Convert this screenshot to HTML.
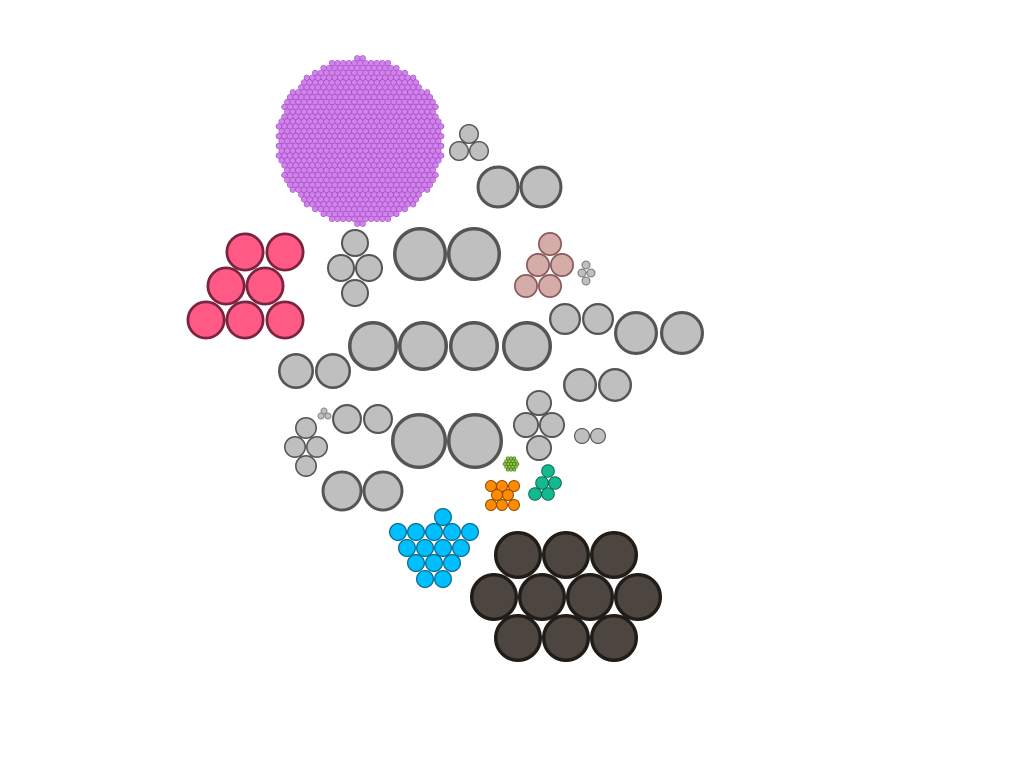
<!DOCTYPE html>
<html><head><meta charset="utf-8"><style>html,body{margin:0;padding:0;background:#fff;width:1024px;height:768px;overflow:hidden}</style></head>
<body>
<svg id="chart" width="1024" height="768" viewBox="0 0 1024 768" xmlns="http://www.w3.org/2000/svg"></svg>
<script>
// group names, node radius, fill, stroke, node positions
const groupNames = ["g-tri-small","g-pair-a","g-pink","g-diamond-a","g-pair-big-a","g-rosy","g-tiny-diamond","g-row4","g-pair-b","g-pair-c","g-pair-d","g-pair-e","g-tiny-tri","g-pair-f","g-diamond-b","g-pair-big-b","g-diamond-c","g-pair-g","g-pair-h","g-orange","g-teal","g-blue","g-dark"];
const groupRadius = [10,21.5,19.5,14,27,12,4.5,25,16,22,18,17,3.5,15,11,28,13,8,20.5,6,6.8,9,24];
const groupFill = ["#bfbfbf","#bfbfbf","#ff5a85","#bfbfbf","#bfbfbf","#d4aca8","#bfbfbf","#bfbfbf","#bfbfbf","#bfbfbf","#bfbfbf","#bfbfbf","#bfbfbf","#bfbfbf","#bfbfbf","#bfbfbf","#bfbfbf","#bfbfbf","#bfbfbf","#ff8c00","#13b98f","#00bfff","#4d4540"];
const groupStroke = ["#555","#555","#7a2440","#555","#555","#8a5a5a","#777","#555","#555","#555","#555","#555","#888","#555","#555","#555","#555","#555","#555","#9a4a00","#0a6a50","#0a6a90","#201c18"];
const groupNodes = [
 [[469,134],[459,151],[479,151]],
 [[498,187],[541,187]],
 [[245,252],[285,252],[226,286],[265,286],[206,320],[245,320],[285,320]],
 [[355,243],[341,268],[369,268],[355,293]],
 [[420,254],[474,254]],
 [[550,244],[538,265],[562,265],[526,286],[550,286]],
 [[586,265],[582,273],[591,273],[586,281]],
 [[373,346],[423,346],[474,346],[527,346]],
 [[565,319],[598,319]],
 [[636,333],[682,333]],
 [[296,371],[333,371]],
 [[580,385],[615,385]],
 [[324,411],[321,416],[328,416]],
 [[347,419],[378,419]],
 [[306,428],[295,447],[317,447],[306,466]],
 [[419,441],[475,441]],
 [[539,403],[526,425],[552,425],[539,448]],
 [[582,436],[598,436]],
 [[342,491],[383,491]],
 [[491,486],[502,486],[514,486],[497,495],[508,495],[491,505],[502,505],[514,505]],
 [[548,471],[542,483],[555,483],[535,494],[548,494]],
 [[443,517],[398,532],[416,532],[434,532],[452,532],[470,532],[407,548],[425,548],[443,548],[461,548],[416,563],[434,563],[452,563],[425,579],[443,579]],
 [[518,555],[566,555],[614,555],[494,597],[542,597],[590,597],[638,597],[518,638],[566,638],[614,638]]
];
// dense hex-packed clusters: center x, center y, cluster radius, node radius
const denseNames = ["g-purple","g-green"];
const denseCenter = [[360,141],[511,464]];
const denseSize = [86,10];
const denseNodeR = [2.8,1.6];
const denseFill = ["#d580f0","#8bc34a"];
const denseStroke = ["#9a50b8","#4a7a10"];

const NS="http://www.w3.org/2000/svg";
const svg=document.getElementById('chart');
groupNames.forEach((name,gi)=>{
  const g=document.createElementNS(NS,'g');
  
  
  const r=groupRadius[gi];
  const sw=Math.max(1,Math.min(3.5,r/7));
  groupNodes[gi].forEach(p=>{
    const c=document.createElementNS(NS,'circle');
    
    
    c.setAttribute('cx',p[0]);c.setAttribute('cy',p[1]);c.setAttribute('r',r-sw/2);
    c.setAttribute('fill',groupFill[gi]);c.setAttribute('stroke',groupStroke[gi]);c.setAttribute('stroke-width',sw);
    g.appendChild(c);
  });
  svg.appendChild(g);
});
denseNames.forEach((name,di)=>{
  const g=document.createElementNS(NS,'g');
  
  
  const [cx,cy]=denseCenter[di], R=denseSize[di], nr=denseNodeR[di];
  const dx=nr*2, dy=nr*1.74;
  for(let j=-Math.ceil(R/dy);j<=Math.ceil(R/dy);j++){
    const off=(Math.abs(j)%2)*nr;
    for(let i=-Math.ceil(R/dx)-1;i<=Math.ceil(R/dx)+1;i++){
      const x=cx+i*dx+off, y=cy+j*dy;
      if(Math.hypot(x-cx,y-cy)>R-nr) continue;
      const c=document.createElementNS(NS,'circle');
      
      
      c.setAttribute('cx',x);c.setAttribute('cy',y);c.setAttribute('r',nr);
      c.setAttribute('fill',denseFill[di]);c.setAttribute('stroke',denseStroke[di]);c.setAttribute('stroke-width',0.6);
      g.appendChild(c);
    }
  }
  svg.appendChild(g);
});
</script>
</body></html>
